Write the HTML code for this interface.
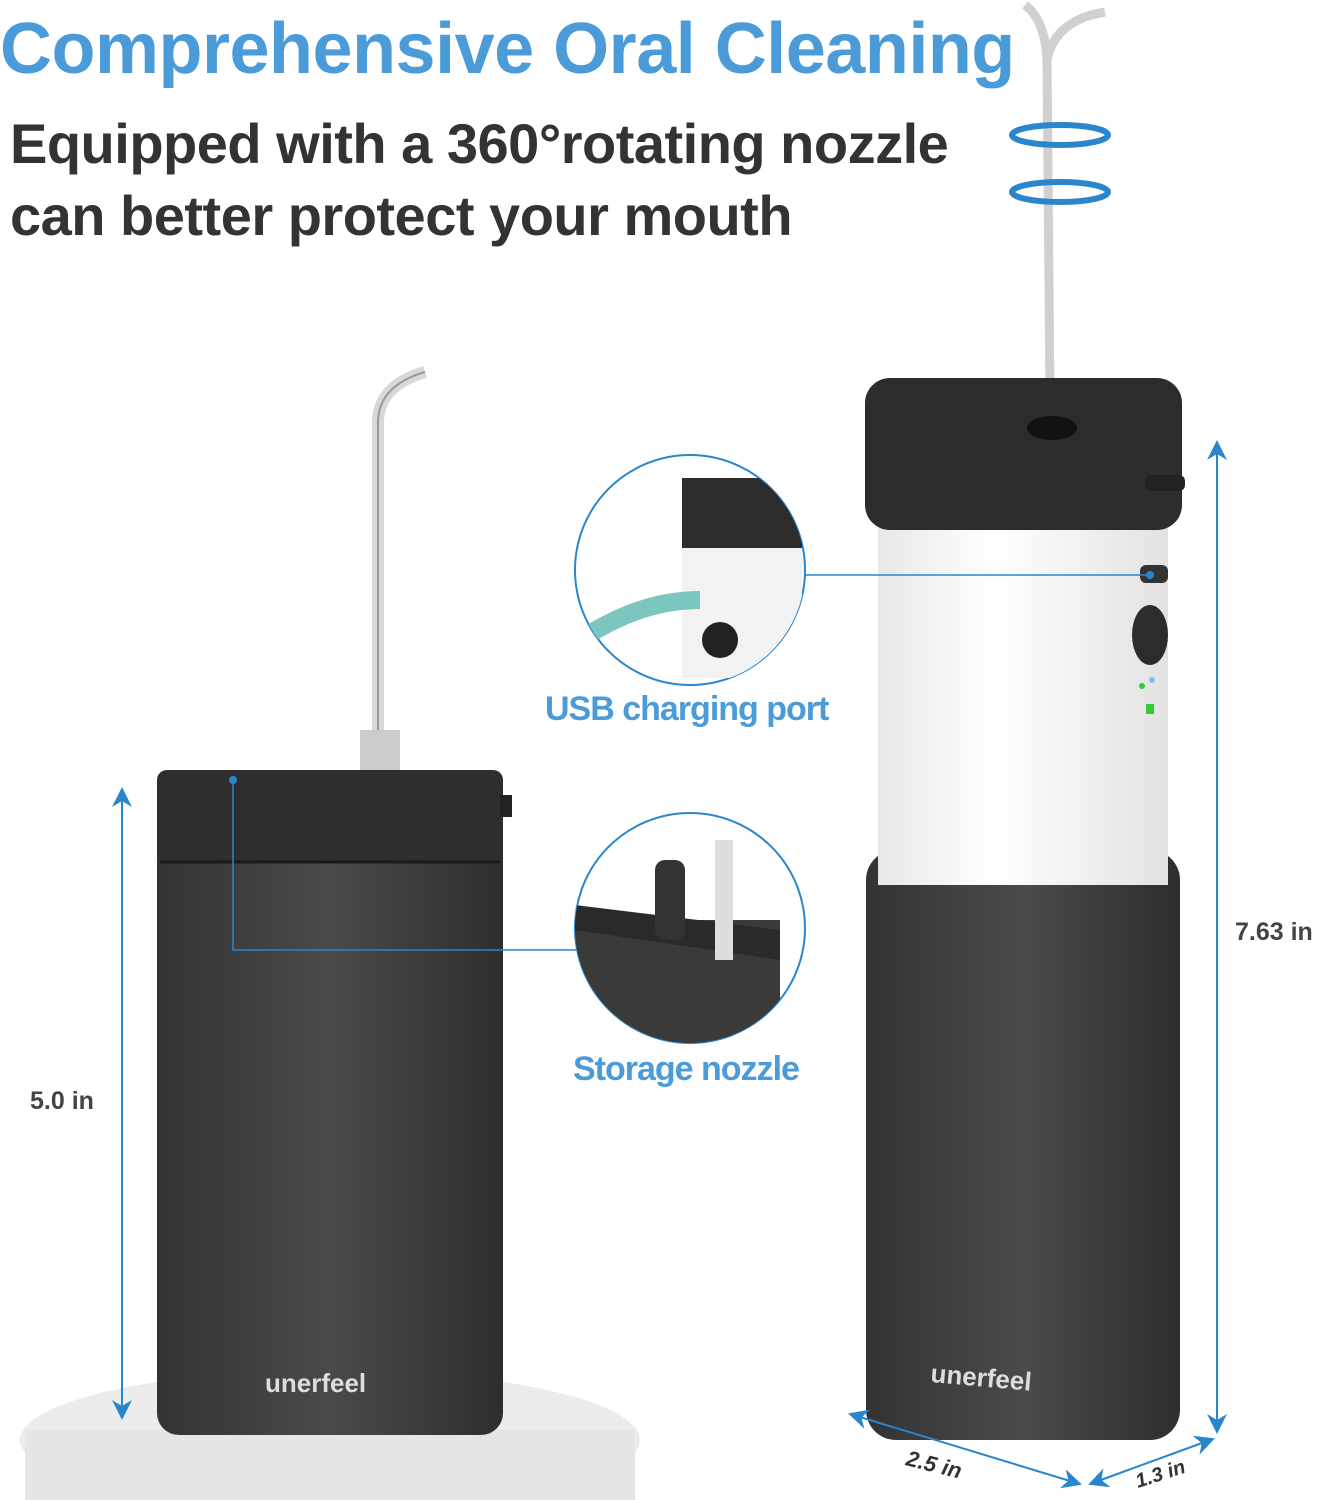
<!DOCTYPE html>
<html><head><meta charset="utf-8"><style>
body{margin:0;width:1320px;height:1500px;background:#fff;position:relative;overflow:hidden;font-family:"Liberation Sans",sans-serif}
.t{position:absolute;white-space:nowrap;font-weight:bold}
</style></head><body>
<svg width="1320" height="1500" style="position:absolute;left:0;top:0">
<defs>
<marker id="a" viewBox="0 0 10 10" refX="9" refY="5" markerWidth="10" markerHeight="10" orient="auto-start-reverse"><path d="M0,0 L10,5 L0,10 L3,5z" fill="#2a86cc"/></marker>
<linearGradient id="blk" x1="0" x2="1"><stop offset="0" stop-color="#333"/><stop offset=".5" stop-color="#4a4a4a"/><stop offset="1" stop-color="#2e2e2e"/></linearGradient>
<linearGradient id="wht" x1="0" x2="1"><stop offset="0" stop-color="#e8e8e8"/><stop offset=".4" stop-color="#fff"/><stop offset="1" stop-color="#e2e2e2"/></linearGradient>
<clipPath id="c1"><circle cx="690" cy="570" r="115"/></clipPath>
<clipPath id="c2"><circle cx="690" cy="928" r="115"/></clipPath>
</defs>
<ellipse cx="330" cy="1440" rx="310" ry="70" fill="#ececec"/>
<rect x="25" y="1430" width="610" height="80" fill="#e6e6e6"/>
<path d="M378,775 L378,420 Q380,385 425,372" stroke="#d8d8d8" stroke-width="12" fill="none"/>
<path d="M378,775 L378,420 Q380,385 425,372" stroke="#999" stroke-width="2" fill="none"/>
<rect x="360" y="730" width="40" height="50" fill="#ccc"/>
<rect x="157" y="770" width="346" height="665" rx="22" fill="url(#blk)"/>
<rect x="157" y="770" width="346" height="92" rx="10" fill="#2e2e2e"/>
<line x1="160" y1="862" x2="500" y2="862" stroke="#1a1a1a" stroke-width="3"/>
<rect x="500" y="795" width="12" height="22" fill="#222"/>
<path d="M1050,400 L1047,60 Q1045,20 1025,5 M1047,60 Q1055,20 1105,12" stroke="#d0d0d0" stroke-width="9" fill="none"/>
<ellipse cx="1060" cy="135" rx="48" ry="10" fill="none" stroke="#2a86cc" stroke-width="6"/>
<ellipse cx="1060" cy="192" rx="48" ry="10" fill="none" stroke="#2a86cc" stroke-width="6"/>
<rect x="866" y="850" width="314" height="590" rx="30" fill="url(#blk)"/>
<rect x="878" y="500" width="290" height="385" fill="url(#wht)"/>
<rect x="865" y="378" width="317" height="152" rx="25" fill="#2c2c2c"/>
<ellipse cx="1052" cy="428" rx="25" ry="12" fill="#111"/>
<rect x="1145" y="475" width="40" height="16" rx="6" fill="#222"/>
<ellipse cx="1150" cy="635" rx="18" ry="30" fill="#2c2c2c"/>
<rect x="1140" y="565" width="28" height="18" rx="6" fill="#333"/>
<circle cx="1142" cy="686" r="3" fill="#3c3"/><circle cx="1152" cy="680" r="3" fill="#8bd"/>
<rect x="1146" y="704" width="8" height="10" fill="#3c3"/>
<circle cx="690" cy="570" r="115" fill="#fff" stroke="#2a86cc" stroke-width="2"/>
<g clip-path="url(#c1)"><rect x="682" y="478" width="120" height="200" fill="#f2f2f2"/><rect x="682" y="478" width="120" height="70" fill="#2c2c2c"/><circle cx="720" cy="640" r="18" fill="#222"/><path d="M580,640 Q640,600 700,600" stroke="#7cc6c0" stroke-width="18" fill="none"/></g>
<circle cx="690" cy="928" r="115" fill="#fff" stroke="#2a86cc" stroke-width="2"/>
<g clip-path="url(#c2)"><rect x="575" y="920" width="205" height="140" fill="#3a3a3a"/><path d="M575,905 L780,930 L780,960 L575,930z" fill="#2a2a2a"/><rect x="655" y="860" width="30" height="80" rx="10" fill="#333"/><rect x="715" y="840" width="18" height="120" fill="#ddd"/></g>
<circle cx="233" cy="780" r="4" fill="#2a86cc"/>
<polyline points="233,780 233,950 576,950" fill="none" stroke="#2a86cc" stroke-width="1.5"/>
<line x1="805" y1="575" x2="1150" y2="575" stroke="#2a86cc" stroke-width="1.5"/>
<circle cx="1150" cy="575" r="4" fill="#2a86cc"/>
<line x1="122" y1="789" x2="122" y2="1418" stroke="#2a86cc" stroke-width="2" marker-start="url(#a)" marker-end="url(#a)"/>
<line x1="1217" y1="442" x2="1217" y2="1432" stroke="#2a86cc" stroke-width="2" marker-start="url(#a)" marker-end="url(#a)"/>
<line x1="850" y1="1414" x2="1080" y2="1484" stroke="#2a86cc" stroke-width="2" marker-start="url(#a)" marker-end="url(#a)"/>
<line x1="1090" y1="1484" x2="1213" y2="1439" stroke="#2a86cc" stroke-width="2" marker-start="url(#a)" marker-end="url(#a)"/>
<text x="265" y="1392" fill="#ddd" font-family="Liberation Sans" font-weight="bold" font-size="26">unerfeel</text>
<text x="930" y="1382" fill="#ddd" font-family="Liberation Sans" font-weight="bold" font-size="26" transform="rotate(5 930 1382)">unerfeel</text>
<text x="905" y="1465" fill="#333" font-family="Liberation Sans" font-style="italic" font-weight="bold" font-size="22" transform="rotate(14 905 1465)">2.5 in</text>
<text x="1138" y="1488" fill="#333" font-family="Liberation Sans" font-style="italic" font-weight="bold" font-size="20" transform="rotate(-18 1138 1488)">1.3 in</text>
</svg>
<div class="t" style="left:0;top:8px;font-size:72px;color:#4a9bd8;letter-spacing:-0.5px">Comprehensive Oral Cleaning</div>
<div class="t" style="left:10px;top:108px;font-size:56px;color:#333;letter-spacing:-0.5px;line-height:72px">Equipped with a 360°rotating nozzle<br>can better protect your mouth</div>
<div class="t" style="left:545px;top:690px;font-size:34px;color:#4a9bd8;letter-spacing:-1px">USB charging port</div>
<div class="t" style="left:573px;top:1050px;font-size:34px;color:#4a9bd8;letter-spacing:-1px">Storage nozzle</div>
<div class="t" style="left:30px;top:1087px;font-size:25px;color:#444">5.0 in</div>
<div class="t" style="left:1235px;top:918px;font-size:25px;color:#444">7.63 in</div>
</body></html>
